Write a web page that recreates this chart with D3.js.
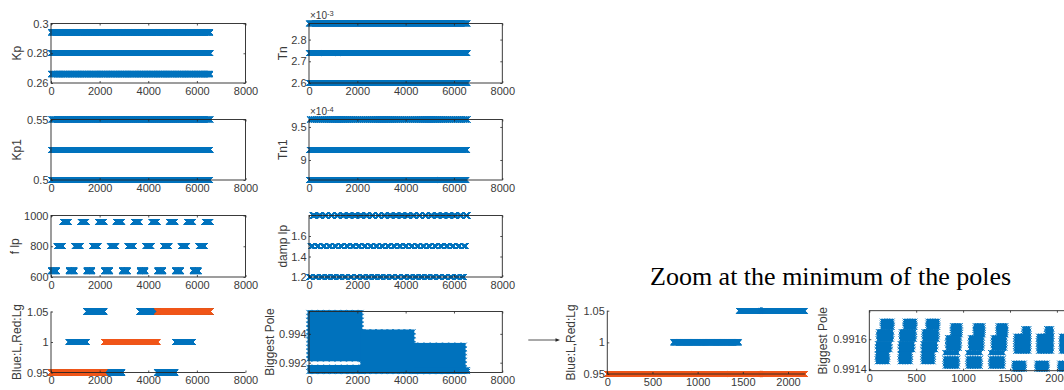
<!DOCTYPE html>
<html>
<head>
<meta charset="utf-8">
<script src="https://cdn.jsdelivr.net/npm/d3@7"></script>
<style>
  html, body { margin: 0; padding: 0; background: #fff; }
  svg { display: block; }
  text { font-family: Arial, "Liberation Sans", Helvetica, sans-serif; }
  text.title { font-family: "Liberation Serif", "Times New Roman", Times, serif; }
</style>
</head>
<body>
<svg id="fig" width="1064" height="390"></svg>
<script>
// ---- Full factorial sweep: 8 parameters, 3 levels each (3^8 runs) ----
const runCount = 6561;
const paramNames   = ["Kp", "Tn", "Kp1", "Tn1", "damp lp", "f lp", "L", "Lg"];
const paramStrides = [1, 3, 9, 27, 81, 243, 729, 2187];

const kpLevels   = [0.266, 0.28, 0.294];
const tnLevels   = [2.600e-3, 2.737e-3, 2.874e-3];
const kp1Levels  = [0.5, 0.525, 0.55];
const tn1Levels  = [8.697e-4, 9.155e-4, 9.613e-4];
const dampLevels = [1.2, 1.5, 1.8];
const flpLevels  = [640, 800, 960];
const lLevels    = [0.95, 1, 1.05];
const lgLevels   = [0.95, 1, 1.05];

// Biggest pole over all runs: dense clouds as [firstRun, lastRun, low, high]
const poleBands = [
  [0,    2150, 0.99226, 0.99548],
  [0,    2187, 0.99139, 0.99168],
  [2187, 4300, 0.99139, 0.99414],
  [4374, 6420, 0.99139, 0.99321],
  [4374, 6561, 0.99139, 0.99152]
];

// Zoom on the first Lg block: one cloud shape per L level, per 243-run group
const zoomRunCount = 2187;
const zoomGroupStarts = [0, 243, 486, 729, 972, 1215, 1458, 1701, 1944];
const zoomGroupShape  = [0, 0, 0, 1, 1, 1, 2, 2, 2];
const zoomShapes = [
  [[140, 242, 0.99168, 0.99172], [98, 237, 0.99160, 0.99165], [87, 221, 0.99153, 0.99157], [87, 194, 0.99145, 0.99150]],
  [[158, 240, 0.99163, 0.99169], [106, 230, 0.99154, 0.99161], [80, 210, 0.99151, 0.99151], [80, 210, 0.99142, 0.99147]],
  [[190, 242, 0.99162, 0.99167], [104, 242, 0.99152, 0.99162], [87, 193, 0.99140, 0.99144]]
];

// Axis ticks
const runTicks   = [0, 2000, 4000, 6000, 8000];
const zoomTicks  = [0, 500, 1000, 1500, 2000];
const kpTicks    = [0.26, 0.28, 0.3];
const tnTicks    = [2.6e-3, 2.7e-3, 2.8e-3];
const kp1Ticks   = [0.5, 0.55];
const tn1Ticks   = [9e-4, 9.5e-4];
const flpTicks   = [600, 800, 1000];
const dampTicks  = [1.2, 1.4, 1.6];
const lTicks     = [0.95, 1, 1.05];
const poleTicks  = [0.992, 0.994];
const zoomPoleTicks = [0.9914, 0.9916];

// ---- drawing ----
const BLUE = "#0072BD", ORANGE = "#F05518", AXC = "#262626", TXC = "#3a3a3a";
const H = 2.6; // marker half size
const svg = d3.select("#fig");

const strideOf = name => paramStrides[paramNames.indexOf(name)];
const levelSeries = (levels, name, n = runCount) =>
  d3.range(n).map(i => [i, levels[Math.floor(i / strideOf(name)) % levels.length]]);

const fmtTick = (v, scale) => String(+((v / scale).toPrecision(8)));

function crossPath(pts) {
  let d = "";
  for (const [x, y] of pts) {
    d += `M${(x - H).toFixed(2)},${(y - H).toFixed(2)}L${(x + H).toFixed(2)},${(y + H).toFixed(2)}` +
         `M${(x - H).toFixed(2)},${(y + H).toFixed(2)}L${(x + H).toFixed(2)},${(y - H).toFixed(2)}`;
  }
  return d;
}

function drawCloud(g, px0, px1, pyTop, pyBot, stepX, stepY, color) {
  // solid core with a fringe of crosses along its outline
  const pad = H * 0.9;
  g.append("rect").attr("x", px0 - pad * 0.6).attr("y", pyTop - pad)
    .attr("width", Math.max(0, px1 - px0) + 1.2 * pad).attr("height", Math.max(0, pyBot - pyTop) + 2 * pad)
    .attr("fill", color);
  const pts = [];
  const nx = Math.max(1, Math.round((px1 - px0) / stepX));
  const ny = Math.max(1, Math.round((pyBot - pyTop) / stepY));
  for (let k = 0; k <= nx; k++) {
    const xx = px0 + (px1 - px0) * k / nx;
    pts.push([xx, pyTop], [xx, pyBot]);
  }
  for (let k = 1; k < ny; k++) {
    const yy = pyTop + (pyBot - pyTop) * k / ny;
    pts.push([px0, yy], [px1, yy]);
  }
  g.append("path").attr("d", crossPath(pts)).attr("fill", "none")
    .attr("stroke", color).attr("stroke-width", 1);
}

function panel(cfg) {
  const x = d3.scaleLinear().domain(cfg.xDomain).range([cfg.x0, cfg.x1]);
  const y = d3.scaleLinear().domain(cfg.yDomain).range([cfg.y1, cfg.y0]);
  const g = svg.append("g");
  const scale = cfg.expScale || 1;

  // marks
  const marks = g.append("g");
  cfg.draw(marks, x, y);

  // axes (ticks pointing inward)
  const axG = g.append("g").attr("font-size", 11).attr("fill", TXC);
  const styleAxis = sel => {
    sel.select(".domain").remove();
    sel.selectAll(".tick line").attr("stroke", AXC).attr("stroke-width", 0.8);
    sel.selectAll(".tick text").attr("fill", TXC).attr("font-size", 11);
  };
  axG.append("g").attr("transform", `translate(0,${cfg.y1})`)
    .call(d3.axisBottom(x).tickValues(cfg.xTicks).tickSize(-2).tickPadding(4)
      .tickFormat(v => fmtTick(v, 1)))
    .call(styleAxis);
  axG.append("g").attr("transform", `translate(${cfg.x0},0)`)
    .call(d3.axisLeft(y).tickValues(cfg.yTicks).tickSize(-2).tickPadding(2.5)
      .tickFormat(v => fmtTick(v, scale)))
    .call(styleAxis);

  if (cfg.box) {
    axG.append("g").attr("transform", `translate(0,${cfg.y0})`)
      .call(d3.axisTop(x).tickValues(cfg.xTicks).tickSize(-2).tickFormat(""))
      .call(styleAxis);
    axG.append("g").attr("transform", `translate(${cfg.x1},0)`)
      .call(d3.axisRight(y).tickValues(cfg.yTicks).tickSize(-2).tickFormat(""))
      .call(styleAxis);
    axG.append("rect").attr("x", cfg.x0).attr("y", cfg.y0)
      .attr("width", cfg.x1 - cfg.x0).attr("height", cfg.y1 - cfg.y0)
      .attr("fill", "none").attr("stroke", AXC).attr("stroke-width", 0.9);
  } else {
    axG.append("line").attr("x1", cfg.x0).attr("x2", cfg.x0)
      .attr("y1", cfg.y0).attr("y2", cfg.y1).attr("stroke", AXC).attr("stroke-width", 0.9);
    axG.append("line").attr("x1", cfg.x0).attr("x2", cfg.x1)
      .attr("y1", cfg.y1).attr("y2", cfg.y1).attr("stroke", AXC).attr("stroke-width", 0.9);
  }

  // exponent above the y axis
  if (cfg.expText) {
    const t = g.append("text").attr("x", cfg.x0 + 1).attr("y", cfg.y0 - 4.5)
      .attr("font-size", 10).attr("fill", TXC);
    t.append("tspan").text("\u00d710");
    t.append("tspan").attr("dy", -3.5).attr("font-size", 7.5).text(cfg.expText);
  }

  // y label
  g.append("text")
    .attr("transform", `translate(${cfg.labelX},${(cfg.y0 + cfg.y1) / 2}) rotate(-90)`)
    .attr("text-anchor", "middle").attr("font-size", 12).attr("fill", TXC)
    .text(cfg.label);
}

function drawSeries(g, x, y, data, color) {
  g.append("path")
    .attr("d", crossPath(data.map(([i, v]) => [x(i), y(v)])))
    .attr("fill", "none").attr("stroke", color).attr("stroke-width", 1);
}

const colA = [51, 245.5], colB = [309, 502.3];
const rows = [[23.5, 83], [119.5, 180], [215.5, 277], [311.5, 372.5]];

function simplePanel(col, row, yDomain, yTicks, levels, name, label, labelX, extra = {}) {
  panel(Object.assign({
    x0: col[0], x1: col[1], y0: row[0], y1: row[1],
    xDomain: [0, 8000], yDomain, xTicks: runTicks, yTicks, label, labelX, box: true,
    draw: (g, x, y) => drawSeries(g, x, y, levelSeries(levels, name), BLUE)
  }, extra));
}

simplePanel(colA, rows[0], [0.26, 0.3], kpTicks, kpLevels, "Kp", "Kp", 21.3);
simplePanel(colB, rows[0], [2.6e-3, 2.874e-3], tnTicks, tnLevels, "Tn", "Tn", 287,
  { expScale: 1e-3, expText: "-3" });
simplePanel(colA, rows[1], [0.5, 0.55], kp1Ticks, kp1Levels, "Kp1", "Kp1", 21.3);
simplePanel(colB, rows[1], [8.697e-4, 9.613e-4], tn1Ticks, tn1Levels, "Tn1", "Tn1", 287,
  { expScale: 1e-4, expText: "-4" });
simplePanel(colA, rows[2], [600, 1000], flpTicks, flpLevels, "f lp", "f lp", 19.3);
simplePanel(colB, rows[2], [1.2, 1.8], dampTicks, dampLevels, "damp lp", "damp lp", 287);

// inductances: blue L, red Lg
panel({
  x0: colA[0], x1: colA[1], y0: rows[3][0], y1: rows[3][1],
  xDomain: [0, 8000], yDomain: [0.95, 1.05], xTicks: runTicks, yTicks: lTicks,
  label: "Blue:L,Red:Lg", labelX: 21.3, box: false,
  draw: (g, x, y) => {
    drawSeries(g, x, y, levelSeries(lLevels, "L"), BLUE);
    drawSeries(g, x, y, levelSeries(lgLevels, "Lg"), ORANGE);
  }
});

// biggest pole, all runs
panel({
  x0: colB[0], x1: colB[1], y0: rows[3][0], y1: rows[3][1],
  xDomain: [0, 8000], yDomain: [0.99132, 0.99555], xTicks: runTicks, yTicks: poleTicks,
  label: "Biggest Pole", labelX: 273.6, box: true,
  draw: (g, x, y) => {
    const step = x(243) - x(0);
    poleBands.forEach(([r0, r1, lo, hi]) =>
      drawCloud(g, x(r0), x(r1), y(hi), y(lo), step, 4, BLUE));
  }
});

// zoom: inductances over the first Lg block
panel({
  x0: 607.3, x1: 607.3 + zoomRunCount * 0.09035, y0: 310.7, y1: 374,
  xDomain: [0, zoomRunCount], yDomain: [0.95, 1.05], xTicks: zoomTicks, yTicks: lTicks,
  label: "Blue:L,Red:Lg", labelX: 575.3, box: false,
  draw: (g, x, y) => {
    drawSeries(g, x, y, levelSeries(lLevels, "L", zoomRunCount), BLUE);
    drawSeries(g, x, y, levelSeries(lgLevels, "Lg", zoomRunCount), ORANGE);
  }
});

// zoom: biggest pole near its minimum
panel({
  x0: 869.3, x1: 869.3 + zoomRunCount * 0.0938, y0: 310.7, y1: 370.7,
  xDomain: [0, zoomRunCount], yDomain: [0.99139, 0.99179], xTicks: zoomTicks, yTicks: zoomPoleTicks,
  label: "Biggest Pole", labelX: 826.9, box: true,
  draw: (g, x, y) => {
    zoomGroupStarts.forEach((start, k) => {
      zoomShapes[zoomGroupShape[k]].forEach(([a, b, lo, hi]) =>
        drawCloud(g, x(start + a), x(start + b), y(hi), y(lo), 2.4, 2.4, BLUE));
    });
  }
});

// arrow pointing at the zoomed panels
const arrow = svg.append("g").attr("stroke", AXC).attr("fill", AXC);
arrow.append("line").attr("x1", 528.3).attr("x2", 557).attr("y1", 340).attr("y2", 340)
  .attr("stroke-width", 0.8);
arrow.append("path").attr("d", "M560,340L555.5,338.2L555.5,341.8Z").attr("stroke", "none");

// title
svg.append("text").attr("class", "title").attr("x", 650).attr("y", 285)
  .attr("font-size", 26).attr("fill", "#000")
  .text("Zoom at the minimum of the poles");
</script>
</body>
</html>
